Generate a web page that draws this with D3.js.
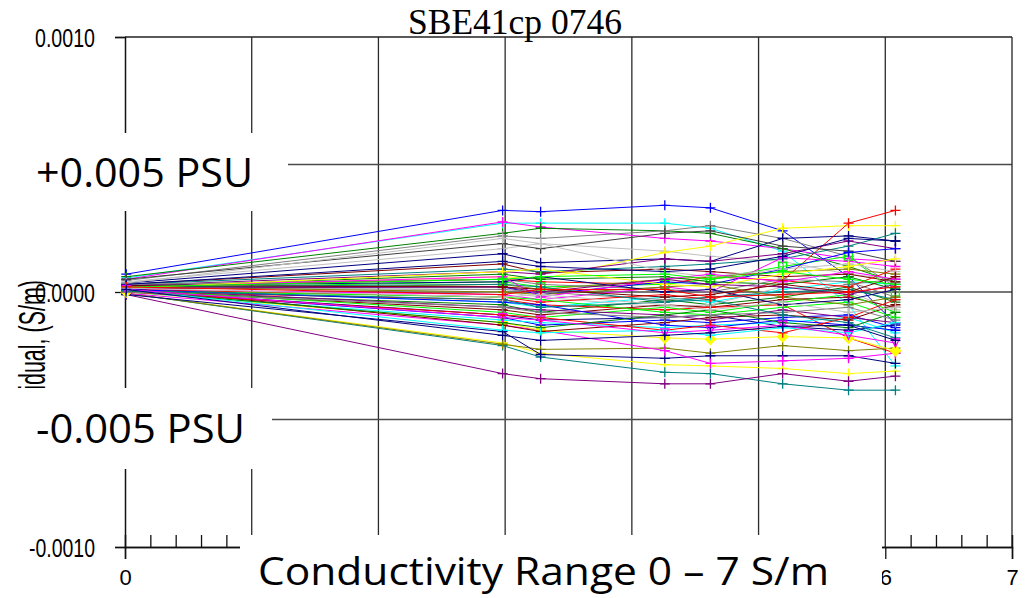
<!DOCTYPE html>
<html>
<head>
<meta charset="utf-8">
<script src="https://cdn.jsdelivr.net/npm/d3@7"></script>
<style>
  body { margin: 0; background: #fff; }
  svg { display: block; }
</style>
</head>
<body>
<svg id="chart" width="1029" height="598"></svg>
<script>
// conductivity of each calibration point (S/m)
const condPoints = [0.01, 2.98, 3.28, 4.26, 4.62, 5.19, 5.71, 6.08]

// residuals per profile, in units of 1e-4 S/m
const residuals = [
  [0.70, 3.20, 3.15, 3.40, 3.30, 2.40, 0.60, -1.25],
  [0.55, 2.70, 2.70, 2.70, 2.50, 1.60, -0.50, -2.90],
  [0.50, 2.75, 2.55, 2.10, 2.00, 1.70, 1.30, 1.20],
  [0.60, 2.30, 2.50, 2.40, 2.30, 1.70, 1.00, 0.40],
  [0.45, 2.20, 2.10, 2.40, 2.60, 2.10, 1.40, 0.20],
  [0.40, 1.70, 1.90, 1.60, 1.40, 1.20, 0.70, 0.50],
  [0.35, 1.50, 1.15, 1.30, 1.20, 2.10, 2.20, 2.00],
  [0.30, 1.10, 0.75, 0.90, 0.80, 0.60, 0.70, 0.40],
  [0.20, 0.60, 0.50, 1.55, 1.80, 2.50, 2.60, 2.60],
  [0.25, 0.50, 0.40, 0.30, 0.60, 0.45, 2.70, 3.20],
  [0.30, 0.90, 0.80, 1.00, 1.10, 1.30, 1.80, 2.30],
  [0.25, 0.80, 0.70, 1.30, 1.20, 1.50, 2.00, 1.70],
  [0.15, 0.40, 0.20, 0.30, 0.50, 1.00, 1.40, 0.00],
  [0.10, 0.30, 0.10, 0.50, 0.60, 0.80, 0.90, 0.70],
  [0.50, 1.90, 1.70, 2.30, 2.40, 1.80, 1.60, 1.20],
  [0.20, 0.20, -0.10, 0.40, 0.30, 0.90, 1.55, 1.70],
  [0.10, -0.40, -0.60, -0.20, -0.40, 0.10, 0.40, 0.30],
  [0.10, -0.10, -0.30, 0.20, 0.00, 1.35, 1.20, 1.00],
  [0.00, -0.50, -0.80, -0.30, -0.50, -0.20, 0.20, -0.40],
  [0.15, 0.10, 0.00, -0.30, -0.20, -0.10, 0.30, 0.50],
  [0.20, 0.00, -0.20, -0.60, -0.50, 0.20, 0.00, -0.70],
  [0.05, -0.90, -1.10, -1.00, -0.90, -1.35, -1.50, -1.30],
  [0.05, -0.70, -0.90, -0.50, -0.60, -0.30, -0.20, -0.60],
  [-0.05, -2.00, -2.40, -2.85, -2.90, -3.00, -3.20, -3.10],
  [0.00, -0.30, -0.50, -0.70, -0.60, -0.50, -1.80, -2.40],
  [-0.05, -2.10, -2.55, -3.15, -3.20, -3.60, -3.85, -3.85],
  [-0.10, -3.20, -3.40, -3.60, -3.60, -3.20, -3.50, -3.30],
  [0.10, -0.80, -1.00, -0.60, -0.80, -0.40, -0.10, -0.80],
  [-0.05, -2.05, -2.25, -2.20, -2.40, -2.10, -2.30, -2.20],
  [-0.10, -1.55, -2.45, -2.60, -2.50, -2.50, -2.50, -2.80],
  [-0.05, -1.30, -1.50, -2.30, -2.80, -2.70, -2.60, -2.40],
  [0.00, -1.20, -1.50, -1.80, -1.85, -1.75, -1.80, -2.30],
  [0.05, -1.00, -1.30, -1.10, -1.20, -1.00, -0.90, -1.40],
  [0.00, -1.10, -1.20, -1.40, -1.30, -1.20, -1.00, -1.60],
  [0.10, -0.20, -0.40, -0.10, -0.30, 0.45, 0.20, 0.90],
  [0.20, 0.70, 0.50, 0.60, 0.40, 0.30, 0.60, 0.10],
  [0.30, 0.50, 0.30, 0.10, 0.00, 0.50, 0.40, -0.20],
  [0.15, -1.30, -1.55, -1.20, -1.00, -0.90, -1.10, -0.50],
  [0.10, -0.60, -0.70, -0.90, -1.10, -0.70, -1.00, -1.20],
  [0.20, 0.30, 0.20, -0.40, -0.20, 0.00, 0.10, -0.30],
  [0.35, 2.10, 1.90, 0.80, 0.60, 0.90, 1.10, 0.80],
  [0.05, -0.20, -0.30, -0.80, -0.90, -0.60, -0.40, -1.00],
  [0.20, 0.00, -0.10, 0.20, 0.30, -0.20, -0.50, -0.20],
  [0.25, 0.40, 0.60, 0.00, 0.10, -0.50, -0.30, 0.10],
  [0.10, -0.40, -0.50, -1.30, -1.40, -1.10, -1.30, -1.50],
  [0.20, 0.60, -0.20, 0.50, 0.70, 0.40, 0.80, 0.50],
  [0.00, -0.90, -1.00, -1.50, -1.30, -1.60, -1.00, -0.30],
  [0.15, 0.80, 0.90, 0.30, 0.20, 0.70, 1.00, 1.30],
  [0.05, -1.20, -1.40, -0.90, -0.70, -1.20, -1.40, -0.80],
  [0.10, -1.50, -1.60, -1.50, -1.70, -1.40, -1.60, -1.20],
  [0.00, -0.60, -0.80, -1.00, -0.90, -0.80, -0.60, -1.10],
  [0.15, 0.20, 0.00, 0.50, 0.30, 0.20, -0.10, 0.30],
  [0.05, -0.30, -0.60, -0.40, -0.30, -0.90, -1.20, -1.80],
  [0.25, 0.20, 0.10, -0.20, -0.10, 0.30, 0.00, 0.60],
  [0.30, 1.20, 1.00, 0.80, 0.90, 1.40, 2.10, 2.00],
  [0.10, -1.00, -1.10, -1.60, -1.50, -1.30, -1.70, -2.00],
  [0.20, 0.50, 0.60, 0.70, 0.50, 0.80, 0.50, 0.30],
  [0.15, -0.20, -0.10, -0.50, -0.70, -0.40, -0.80, -0.60],
  [0.20, -0.10, 0.10, 0.10, -0.20, -0.10, 0.00, 0.20],
  [0.10, -1.70, -1.90, -1.70, -1.60, -1.35, -1.30, -1.90]
]

const seriesColors = [
  '#0000FF', '#00FFFF', '#FF00FF', '#008000', '#808080', '#C0C0C0', '#000080', '#800000',
  '#FFFF00', '#FF0000', '#008080', '#800080', '#00FF00', '#808000', '#404040', '#0000FF',
  '#00FFFF', '#FF00FF', '#008000', '#808080', '#C0C0C0', '#000080', '#800000', '#FFFF00',
  '#FF0000', '#008080', '#800080', '#00FF00', '#808000', '#000080', '#FF00FF', '#FFFF00',
  '#0000FF', '#00FFFF', '#FF0000', '#008000', '#808080', '#800000', '#800080', '#008080',
  '#C0C0C0', '#00FF00', '#808000', '#000080', '#0000FF', '#FF00FF', '#FF0000', '#FFFF00',
  '#008000', '#00FFFF', '#808080', '#800080', '#008080', '#800000', '#000080', '#FF00FF',
  '#00FF00', '#C0C0C0', '#FF0000', '#000080'
]

// a few profiles drawn with other marker shapes
const specialMarkers = { 12: 'square', 31: 'diamond', 55: 'triangle' }

const xTicks = [0, 1, 2, 3, 4, 5, 6, 7]
const xLabelled = [0, 6, 7]   // labels 1-5 sit under the annotation box
const yTicks = [-0.0010, 0.0000, 0.0010]
const yGrid = [-0.0005, 0.0000, 0.0005]

const titleText = 'SBE41cp 0746'
const yLabelText = 'Residual, (S/m)'
const overlayUpper = '+0.005 PSU'
const overlayLower = '-0.005 PSU'
const overlayAxis = 'Conductivity Range 0 \u2013 7 S/m'

// Layout of the plot frame
const plotLeft = 125, plotRight = 1012, plotTop = 37, plotBottom = 547

const svg = d3.select('#chart')

const x = d3.scaleLinear().domain([0, 7]).range([plotLeft, plotRight])
const y = d3.scaleLinear().domain([-0.001, 0.001]).range([plotBottom, plotTop])

// Grid
const grid = svg.append('g')
grid.selectAll('line.v')
    .data(xTicks.filter(d => d > 0 && d < 7))
  .enter().append('line')
    .attr('x1', d => x(d)).attr('x2', d => x(d))
    .attr('y1', plotTop).attr('y2', plotBottom)
    .attr('stroke', '#2a2a2a').attr('stroke-width', 1.3)
grid.selectAll('line.h')
    .data(yGrid)
  .enter().append('line')
    .attr('x1', plotLeft).attr('x2', plotRight)
    .attr('y1', d => y(d)).attr('y2', d => y(d))
    .attr('stroke', '#4a4a4a').attr('stroke-width', 1.3)

// frame top and right
svg.append('line')
    .attr('x1', plotLeft).attr('x2', plotRight).attr('y1', plotTop).attr('y2', plotTop)
    .attr('stroke', '#222').attr('stroke-width', 1.3)
svg.append('line')
    .attr('x1', plotRight).attr('x2', plotRight).attr('y1', plotTop).attr('y2', plotBottom)
    .attr('stroke', '#222').attr('stroke-width', 1.3)

// Axes
const fmt = d3.format('.4f')
const yAxis = d3.axisLeft(y)
    .tickValues(yTicks)
    .tickSize(10)
    .tickPadding(20)
    .tickFormat(d => fmt(d).replace('\u2212', '-'))
const gy = svg.append('g')
    .attr('transform', 'translate(' + plotLeft + ',0)')
    .call(yAxis)

const minorTicks = d3.range(0, 7.001, 0.2).filter(d => Math.abs(d - Math.round(d)) > 0.01)
const xMinor = d3.axisBottom(x).tickValues(minorTicks).tickSize(-12).tickFormat('')
const xAxis = d3.axisBottom(x).tickValues(xTicks).tickSize(12).tickPadding(10)
    .tickFormat(d => xLabelled.includes(d) ? String(d) : '')
const gxm = svg.append('g')
    .attr('transform', 'translate(0,' + plotBottom + ')')
    .call(xMinor)
const gx = svg.append('g')
    .attr('transform', 'translate(0,' + plotBottom + ')')
    .call(xAxis)

;[gy, gx, gxm].forEach(g => {
  g.select('.domain').attr('stroke', '#111').attr('stroke-width', 1.5)
  g.selectAll('.tick line').attr('stroke', '#111').attr('stroke-width', 1.3)
})
gy.selectAll('.tick text')
    .attr('font-family', 'Liberation Sans, Arial, sans-serif')
    .attr('font-size', 25)
    .attr('fill', '#000')
    .attr('dy', '0.38em')
    .attr('textLength', d => d < 0 ? 66 : 60)
    .attr('lengthAdjust', 'spacingAndGlyphs')
gx.selectAll('.tick text')
    .attr('font-family', 'Liberation Sans, Arial, sans-serif')
    .attr('font-size', 22)
    .attr('fill', '#000')

// Y label (mostly hidden later by the overlay box)
svg.append('text')
    .attr('transform', 'translate(45,428) rotate(-90)')
    .attr('font-family', 'Liberation Sans, Arial, sans-serif')
    .attr('font-size', 36)
    .attr('textLength', 148)
    .attr('lengthAdjust', 'spacingAndGlyphs')
    .text(yLabelText)

// Profiles
const line = d3.line()
    .x((d, i) => x(condPoints[i]))
    .y(d => y(d * 1e-4))

const series = svg.append('g')
residuals.forEach((vals, s) => {
  const color = seriesColors[s]
  series.append('path')
      .datum(vals)
      .attr('d', line)
      .attr('fill', 'none')
      .attr('stroke', color)
      .attr('stroke-width', 1)
  const shape = specialMarkers[s] || 'plus'
  const marks = series.append('g').selectAll('path')
      .data(vals)
    .enter().append('path')
      .attr('transform', (d, i) => 'translate(' + x(condPoints[i]) + ',' + y(d * 1e-4) + ')')
  if (shape === 'plus') {
    marks.attr('d', 'M-5,0H5M0,-5V5').attr('stroke', color).attr('stroke-width', 1.3).attr('fill', 'none')
  } else if (shape === 'square') {
    marks.attr('d', 'M-4,-4H4V4H-4Z').attr('stroke', color).attr('stroke-width', 1.3).attr('fill', 'none')
  } else if (shape === 'diamond') {
    marks.attr('d', 'M0,-6L6,0L0,6L-6,0Z').attr('fill', color)
  } else {
    marks.attr('d', 'M-4,-4H4L0,4Z').attr('stroke', color).attr('stroke-width', 1.3).attr('fill', 'none')
  }
})

// Title
svg.append('text')
    .attr('x', 408).attr('y', 34)
    .attr('font-family', 'Liberation Serif, Times New Roman, serif')
    .attr('font-size', 35)
    .attr('textLength', 214)
    .attr('lengthAdjust', 'spacingAndGlyphs')
    .text(titleText)

// White overlay boxes with annotations
const boxes = [
  { x: 0, y: 133, w: 288, h: 78, text: overlayUpper, tx: 36, ty: 187, len: 217, size: 40 },
  { x: 0, y: 388, w: 272, h: 81, text: overlayLower, tx: 36, ty: 443, len: 209, size: 40 },
  { x: 240, y: 535, w: 642, h: 63, text: overlayAxis, tx: 258, ty: 585, len: 571, size: 38 }
]
boxes.forEach(b => {
  svg.append('rect')
      .attr('x', b.x).attr('y', b.y).attr('width', b.w).attr('height', b.h)
      .attr('fill', '#fff')
  svg.append('text')
      .attr('x', b.tx).attr('y', b.ty)
      .attr('font-family', 'Open Sans, Noto Sans, sans-serif')
      .attr('font-size', b.size)
      .attr('textLength', b.len)
      .attr('lengthAdjust', 'spacingAndGlyphs')
      .text(b.text)
})
</script>
</body>
</html>
